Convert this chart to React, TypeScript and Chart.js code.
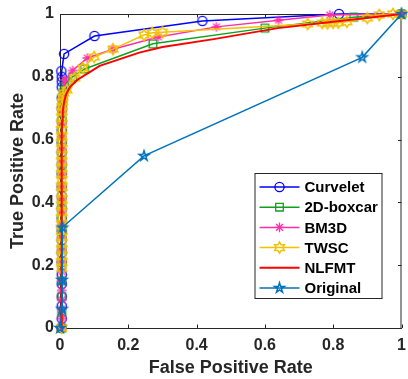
import React, { useEffect, useRef } from "react";
import { Chart, registerables } from "chart.js";
Chart.register(...registerables);

const seriesNames = ["Curvelet", "2D-boxcar", "BM3D", "TWSC", "NLFMT", "Original"];
const seriesColors = ["#0000FF", "#10A020", "#FF2FA8", "#F2C200", "#FF0000", "#0072BD"];
const seriesMarkers = ["o", "s", "*", "h", "", "p"];

const curveletX = [0.004, 0.005, 0.005, 0.005, 0.005, 0.005, 0.005, 0.005, 0.005, 0.005, 0.005, 0.005, 0.005, 0.005, 0.005, 0.005, 0.005, 0.005, 0.005, 0.005, 0.005, 0.005, 0.005, 0.005, 0.005, 0.004, 0.012, 0.101, 0.417, 0.817, 1];
const curveletY = [0, 0.03, 0.07, 0.1, 0.14, 0.17, 0.21, 0.24, 0.28, 0.31, 0.35, 0.38, 0.42, 0.45, 0.49, 0.52, 0.56, 0.59, 0.63, 0.66, 0.7, 0.733, 0.767, 0.785, 0.8, 0.818, 0.873, 0.93, 0.978, 1.0, 1];

const boxcarX = [0.005, 0.005, 0.005, 0.005, 0.005, 0.005, 0.005, 0.005, 0.005, 0.005, 0.005, 0.005, 0.005, 0.006, 0.006, 0.006, 0.007, 0.008, 0.01, 0.014, 0.022, 0.037, 0.072, 0.272, 0.6, 0.86, 1];
const boxcarY = [0, 0.05, 0.1, 0.15, 0.2, 0.25, 0.3, 0.35, 0.4, 0.45, 0.5, 0.55, 0.6, 0.63, 0.66, 0.69, 0.71, 0.73, 0.75, 0.77, 0.785, 0.8, 0.825, 0.905, 0.955, 0.99, 1];

const bm3dX = [0.005, 0.005, 0.005, 0.005, 0.005, 0.005, 0.005, 0.005, 0.005, 0.005, 0.005, 0.005, 0.005, 0.005, 0.005, 0.005, 0.005, 0.005, 0.005, 0.006, 0.008, 0.014, 0.037, 0.08, 0.155, 0.288, 0.458, 0.64, 0.79, 1];
const bm3dY = [0, 0.03, 0.06, 0.09, 0.12, 0.15, 0.18, 0.21, 0.25, 0.29, 0.33, 0.37, 0.41, 0.45, 0.49, 0.53, 0.57, 0.61, 0.65, 0.69, 0.73, 0.79, 0.82, 0.86, 0.888, 0.927, 0.959, 0.98, 0.997, 1];

const twscX = [0.005, 0.005, 0.005, 0.005, 0.005, 0.005, 0.005, 0.005, 0.005, 0.005, 0.005, 0.005, 0.005, 0.005, 0.005, 0.005, 0.005, 0.005, 0.005, 0.005, 0.005, 0.005, 0.005, 0.005, 0.005, 0.005, 0.005, 0.006, 0.007, 0.008, 0.011, 0.02, 0.043, 0.067, 0.1, 0.155, 0.246, 0.27, 0.3, 0.725, 0.768, 0.783, 0.8, 0.815, 0.84, 0.9, 0.935, 0.975, 1];
const twscY = [0, 0.19, 0.21, 0.23, 0.25, 0.27, 0.29, 0.31, 0.33, 0.35, 0.37, 0.39, 0.41, 0.43, 0.45, 0.47, 0.49, 0.51, 0.53, 0.55, 0.57, 0.59, 0.61, 0.63, 0.65, 0.67, 0.69, 0.705, 0.72, 0.735, 0.748, 0.758, 0.796, 0.828, 0.863, 0.888, 0.933, 0.94, 0.942, 0.968, 0.971, 0.97, 0.972, 0.972, 0.975, 0.987, 0.997, 1.0, 1];

const nlfmtX = [0.005, 0.005, 0.006, 0.008, 0.012, 0.018, 0.029, 0.05, 0.087, 0.116, 0.232, 0.3, 0.45, 0.638, 0.8, 1];
const nlfmtY = [0, 0.6, 0.66, 0.69, 0.72, 0.745, 0.767, 0.79, 0.815, 0.835, 0.877, 0.895, 0.92, 0.955, 0.975, 1];

const originalX = [0, 0.006, 0.006, 0.007, 0.246, 0.885, 1];
const originalY = [0, 0.06, 0.153, 0.32, 0.548, 0.862, 1];

const seriesX = [curveletX, boxcarX, bm3dX, twscX, nlfmtX, originalX];
const seriesY = [curveletY, boxcarY, bm3dY, twscY, nlfmtY, originalY];

const xTicks = [0, 0.2, 0.4, 0.6, 0.8, 1];
const yTicks = [0, 0.2, 0.4, 0.6, 0.8, 1];
const xTitle = "False Positive Rate";
const yTitle = "True Positive Rate";

const FONT = "'Liberation Sans', Arial, Helvetica, sans-serif";
const AXIS = "#262626";

function drawMarkerPath(ctx: CanvasRenderingContext2D, kind: string, cx: number, cy: number, color: string) {
  ctx.save();
  ctx.strokeStyle = color;
  ctx.lineWidth = 1.3;
  ctx.lineJoin = "miter";
  ctx.beginPath();
  if (kind === "o") {
    ctx.arc(cx, cy, 4.6, 0, Math.PI * 2);
  } else if (kind === "s") {
    ctx.rect(cx - 3.8, cy - 3.8, 7.6, 7.6);
  } else if (kind === "*") {
    const r = 4.8;
    for (let i = 0; i < 4; i++) {
      const a = (i * Math.PI) / 4;
      ctx.moveTo(cx - r * Math.cos(a), cy - r * Math.sin(a));
      ctx.lineTo(cx + r * Math.cos(a), cy + r * Math.sin(a));
    }
  } else if (kind === "h" || kind === "p") {
    const n = kind === "h" ? 6 : 5;
    const R = kind === "h" ? 5.6 : 5.2;
    const ri = kind === "h" ? R * 0.577 : R * 0.382;
    for (let i = 0; i < n * 2; i++) {
      const a = -Math.PI / 2 + (i * Math.PI) / n;
      const r = i % 2 === 0 ? R : ri;
      const px = cx + r * Math.cos(a);
      const py = cy + r * Math.sin(a);
      if (i === 0) ctx.moveTo(px, py);
      else ctx.lineTo(px, py);
    }
    ctx.closePath();
    ctx.lineWidth = 1.5;
  }
  ctx.stroke();
  ctx.restore();
}

function makeMarker(kind: string, color: string): HTMLCanvasElement {
  const c = document.createElement("canvas");
  c.width = 16;
  c.height = 16;
  const ctx = c.getContext("2d")!;
  drawMarkerPath(ctx, kind, 8, 8, color);
  return c;
}

const frameTicksPlugin = {
  id: "frameTicks",
  beforeDatasetsDraw(chart: any) {
    const { ctx, chartArea } = chart;
    const { left, right, top, bottom } = chartArea;
    const xs = chart.scales.x;
    const ys = chart.scales.y;
    ctx.save();
    ctx.strokeStyle = AXIS;
    ctx.lineWidth = 1;
    ctx.beginPath();
    ctx.moveTo(left, top + 0.5);
    ctx.lineTo(right, top + 0.5);
    ctx.moveTo(right - 0.5, top);
    ctx.lineTo(right - 0.5, bottom);
    const tl = 3.5;
    xTicks.forEach((v) => {
      const p = Math.round(xs.getPixelForValue(v)) + 0.5;
      ctx.moveTo(p, bottom);
      ctx.lineTo(p, bottom - tl);
      ctx.moveTo(p, top);
      ctx.lineTo(p, top + tl);
    });
    yTicks.forEach((v) => {
      const p = Math.round(ys.getPixelForValue(v)) + 0.5;
      ctx.moveTo(left, p);
      ctx.lineTo(left + tl, p);
      ctx.moveTo(right, p);
      ctx.lineTo(right - tl, p);
    });
    ctx.stroke();
    ctx.restore();
  },
};

const legendPlugin = {
  id: "mlLegend",
  afterDraw(chart: any) {
    const { ctx, chartArea } = chart;
    const w = 127;
    const h = 125;
    const x0 = chartArea.right - 20 - w;
    const y0 = chartArea.bottom - 30 - h;
    ctx.save();
    ctx.fillStyle = "#ffffff";
    ctx.fillRect(x0, y0, w, h);
    ctx.strokeStyle = AXIS;
    ctx.lineWidth = 1;
    ctx.strokeRect(x0 + 0.5, y0 + 0.5, w, h);
    const rowH = 20.2;
    chart.data.datasets.forEach((ds: any, i: number) => {
      const cy = y0 + 14 + i * rowH;
      ctx.strokeStyle = ds.borderColor;
      ctx.lineWidth = ds.borderWidth;
      ctx.beginPath();
      ctx.moveTo(x0 + 5, cy);
      ctx.lineTo(x0 + 45, cy);
      ctx.stroke();
      const mk = seriesMarkers[i];
      if (mk) drawMarkerPath(ctx, mk, x0 + 25, cy, ds.borderColor);
      ctx.fillStyle = "#000000";
      ctx.font = `bold 15px ${FONT}`;
      ctx.textBaseline = "middle";
      ctx.textAlign = "left";
      ctx.fillText(ds.label, x0 + 50, cy + 1);
    });
    ctx.restore();
  },
};

export default function App() {
  const ref = useRef<HTMLCanvasElement>(null);
  useEffect(() => {
    if (!ref.current) return;
    const datasets = seriesNames.map((name, i) => {
      const mk = seriesMarkers[i];
      return {
        label: name,
        data: seriesX[i].map((x, j) => ({ x, y: seriesY[i][j] })),
        borderColor: seriesColors[i],
        backgroundColor: seriesColors[i],
        borderWidth: i === 4 ? 2 : 1.5,
        pointStyle: mk ? makeMarker(mk, seriesColors[i]) : "circle",
        pointRadius: mk ? 5 : 0,
        showLine: true,
        fill: false,
        tension: 0,
        clip: false,
        order: seriesNames.length - i,
      };
    });
    const chart = new Chart(ref.current, {
      type: "line",
      data: { datasets },
      plugins: [frameTicksPlugin, legendPlugin],
      options: {
        animation: false,
        responsive: false,
        events: [],
        layout: { padding: { top: 14, right: 3, left: 0, bottom: 0 } },
        plugins: { legend: { display: false }, tooltip: { enabled: false } },
        scales: {
          x: {
            type: "linear",
            min: 0,
            max: 1,
            afterFit: (s: any) => {
              s.height = 51;
              s.paddingLeft = 0;
              s.paddingRight = 0;
            },
            afterBuildTicks: (s: any) => {
              s.ticks = xTicks.map((v) => ({ value: v }));
            },
            ticks: {
              color: AXIS,
              font: { family: FONT, size: 16, weight: "bold" },
              padding: 8,
              maxRotation: 0,
              callback: (v: any) => String(v),
            },
            grid: { drawOnChartArea: false, drawTicks: false },
            border: { display: true, color: AXIS, width: 1 },
            title: {
              display: true,
              text: xTitle,
              color: AXIS,
              font: { family: FONT, size: 18, weight: "bold" },
              padding: { top: 0, bottom: 0 },
            },
          },
          y: {
            type: "linear",
            min: 0,
            max: 1,
            afterFit: (s: any) => {
              s.width = 60;
              s.paddingTop = 0;
              s.paddingBottom = 0;
            },
            afterBuildTicks: (s: any) => {
              s.ticks = yTicks.map((v) => ({ value: v }));
            },
            ticks: {
              color: AXIS,
              font: { family: FONT, size: 16, weight: "bold" },
              padding: 6,
              callback: (v: any) => String(v),
            },
            grid: { drawOnChartArea: false, drawTicks: false },
            border: { display: true, color: AXIS, width: 1 },
            title: {
              display: true,
              text: yTitle,
              color: AXIS,
              font: { family: FONT, size: 18, weight: "bold" },
              padding: { top: 7, bottom: 0 },
            },
          },
        },
      },
    } as any);
    return () => chart.destroy();
  }, []);
  return (
    <div style={{ position: "fixed", left: 0, top: 0, width: 408, height: 379, background: "#fff" }}>
      <canvas ref={ref} width={408} height={379} style={{ display: "block" }} />
    </div>
  );
}
